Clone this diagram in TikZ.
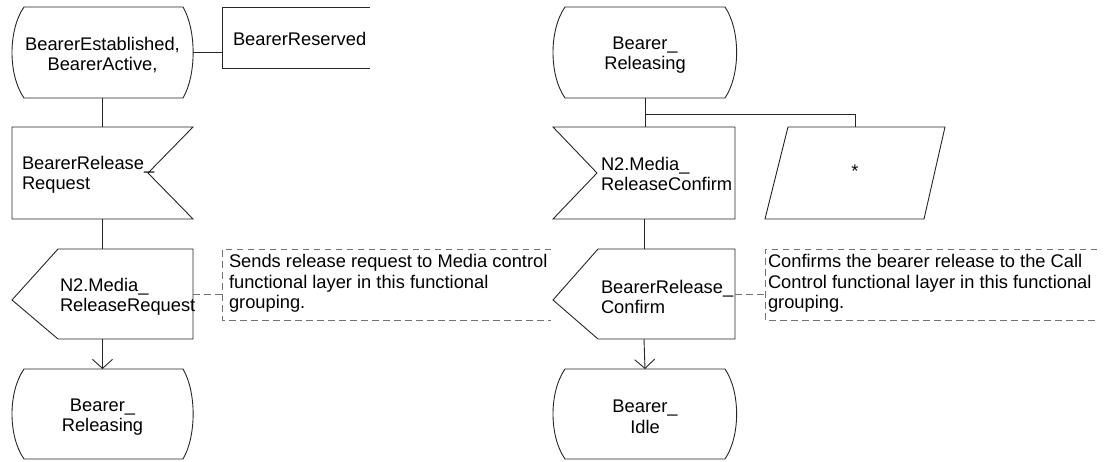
\documentclass[tikz,border=0pt]{standalone}
\usepackage{fontspec}
\setmainfont{Liberation Sans}
\usetikzlibrary{calc,arrows.meta}
\begin{document}
\begin{tikzpicture}[x=1pt,y=-1pt,
  shapebox/.style={draw=none,inner sep=0pt,outer sep=0pt,minimum width=#1},
  shapebox/.default=181pt,
  outline/.style={draw=black!85,line width=0.9pt,line join=miter},
  txt/.style={inner sep=0pt,outer sep=0pt,font=\fontsize{18.3}{20.5}\selectfont,text=black},
  flow/.style={draw=black!85,line width=0.9pt},
  arrowflow/.style={flow,-{Straight Barb[length=9pt,width=20pt,line width=0.9pt]}},
  commentline/.style={draw=black!55,line width=0.9pt,dash pattern=on 6.5pt off 4.5pt}
]
\useasboundingbox (0,0) rectangle (1106,461);

% ---------- left column ----------
\node[shapebox=181pt,minimum height=91pt] (s1) at (102.5,52.5) {};
\node[shapebox=148pt,minimum height=61pt] (r1) at (296,37.5) {};
\node[shapebox=181pt,minimum height=92pt] (i1) at (102.5,173) {};
\node[shapebox=181pt,minimum height=90pt] (o1) at (102.5,294) {};
\node[shapebox=181pt,minimum height=90pt] (s2) at (102.5,414) {};
\node[shapebox=329pt,minimum height=71pt] (c1) at (386.5,284.5) {};

% state s1
\path[outline] ($(s1.north west)+(12,0)$) -- ($(s1.north east)+(-10,0)$)
  .. controls ($(s1.north east)+(3.5,23)$) and ($(s1.south east)+(3.5,-23)$) .. ($(s1.south east)+(-10,0)$)
  -- ($(s1.south west)+(12,0)$)
  .. controls ($(s1.south west)+(-4,-23)$) and ($(s1.north west)+(-4,23)$) .. cycle;
\node[txt,align=center] (s1t) at ($(s1.center)+(0,2.5)$) {BearerEstablished,\\BearerActive,};

% BearerReserved (open box)
\path[outline] (r1.north east) -- (r1.north west) -- (r1.south west) -- (r1.south east);
\node[txt,anchor=west] (r1t) at ($(r1.west)+(11,1)$) {BearerReserved};
\path[flow] (s1.east) -- (s1.east -| r1.west);

% input i1
\path[outline] (i1.north west) -- (i1.north east) -- ($(i1.east)+(-45,0)$) -- (i1.south east) -- (i1.south west) -- cycle;
\node[txt,anchor=west,align=left] (i1t) at ($(i1.west)+(10,2)$) {BearerRelease\_\\Request};

% output o1
\path[outline] ($(o1.west)+(0,6)$) -- ($(o1.north west)+(46,0)$) -- (o1.north east) -- (o1.south east) -- ($(o1.south west)+(46,0)$) -- cycle;
\node[txt,anchor=west,align=left] (o1t) at ($(o1.west)+(48,3)$) {N2.Media\_\\ReleaseRequest};

% state s2
\path[outline] ($(s2.north west)+(12,0)$) -- ($(s2.north east)+(-10,0)$)
  .. controls ($(s2.north east)+(3.5,23)$) and ($(s2.south east)+(3.5,-23)$) .. ($(s2.south east)+(-10,0)$)
  -- ($(s2.south west)+(12,0)$)
  .. controls ($(s2.south west)+(-4,-23)$) and ($(s2.north west)+(-4,23)$) .. cycle;
\node[txt,align=center] (s2t) at ($(s2.center)+(0,3)$) {Bearer\_\\Releasing};

% comment c1
\path[commentline] (c1.north east) -- (c1.north west) -- (c1.south west) -- (c1.south east);
\node[txt,anchor=west,align=left] (c1t) at ($(c1.west)+(7,-1)$) {Sends release request to Media control\\functional layer in this functional\\grouping.};
\path[commentline] (o1.east) -- (o1.east -| c1.west);

% flow left
\path[flow] (s1.south) -- (i1.north);
\path[flow] (i1.south) -- (o1.north);
\path[arrowflow] (o1.south) -- (s2.north);

% ---------- right column ----------
\node[shapebox=184pt,minimum height=91pt] (s3) at (645,52.5) {};
\node[shapebox=182pt,minimum height=92pt] (i2) at (644,173) {};
\node[shapebox=180pt,minimum height=92pt] (p1) at (855,173) {};
\node[shapebox=182pt,minimum height=90pt] (o2) at (644,294) {};
\node[shapebox=184pt,minimum height=90pt] (s4) at (645,414) {};
\node[shapebox=332pt,minimum height=71pt] (c2) at (931,284.5) {};

% state s3
\path[outline] ($(s3.north west)+(12,0)$) -- ($(s3.north east)+(-12,0)$)
  .. controls ($(s3.north east)+(3.5,23)$) and ($(s3.south east)+(3.5,-23)$) .. ($(s3.south east)+(-12,0)$)
  -- ($(s3.south west)+(12,0)$)
  .. controls ($(s3.south west)+(-4,-23)$) and ($(s3.north west)+(-4,23)$) .. cycle;
\node[txt,align=center] (s3t) at ($(s3.center)+(0,2.5)$) {Bearer\_\\Releasing};

% input i2 (notch on left)
\path[outline] (i2.north west) -- (i2.north east) -- (i2.south east) -- (i2.south west) -- ($(i2.west)+(44,0)$) -- cycle;
\node[txt,anchor=west,align=left] (i2t) at ($(i2.west)+(48,1)$) {N2.Media\_\\ReleaseConfirm};

% parallelogram p1
\path[outline] ($(p1.north west)+(23,0)$) -- (p1.north east) -- ($(p1.south east)+(-21,0)$) -- (p1.south west) -- cycle;
\node[txt] (p1t) at ($(p1.center)+(0,-2)$) {*};

% output o2
\path[outline] ($(o2.west)+(0,6)$) -- ($(o2.north west)+(45,0)$) -- (o2.north east) -- (o2.south east) -- ($(o2.south west)+(45,0)$) -- cycle;
\node[txt,anchor=west,align=left] (o2t) at ($(o2.west)+(48,3)$) {BearerRelease\_\\Confirm};

% state s4
\path[outline] ($(s4.north west)+(12,0)$) -- ($(s4.north east)+(-12,0)$)
  .. controls ($(s4.north east)+(3.5,23)$) and ($(s4.south east)+(3.5,-23)$) .. ($(s4.south east)+(-12,0)$)
  -- ($(s4.south west)+(12,0)$)
  .. controls ($(s4.south west)+(-4,-23)$) and ($(s4.north west)+(-4,23)$) .. cycle;
\node[txt,align=center] (s4t) at ($(s4.center)+(0,3)$) {Bearer\_\\Idle};

% comment c2
\path[commentline] (c2.north east) -- (c2.north west) -- (c2.south west) -- (c2.south east);
\node[txt,anchor=west,align=left] (c2t) at ($(c2.west)+(3,-1)$) {Confirms the bearer release to the Call\\Control functional layer in this functional\\grouping.};
\path[commentline] (o2.east) -- (o2.east -| c2.west);

% flow right
\coordinate (br) at ($(s3.south)+(0,16)$);
\path[flow] (s3.south) -- (s3.south |- i2.north);
\path[flow] (br) -| (p1.north);
\path[flow] (i2.south) -- (o2.north);
\path[arrowflow] (o2.south) -- (s4.north);
\end{tikzpicture}
\end{document}
